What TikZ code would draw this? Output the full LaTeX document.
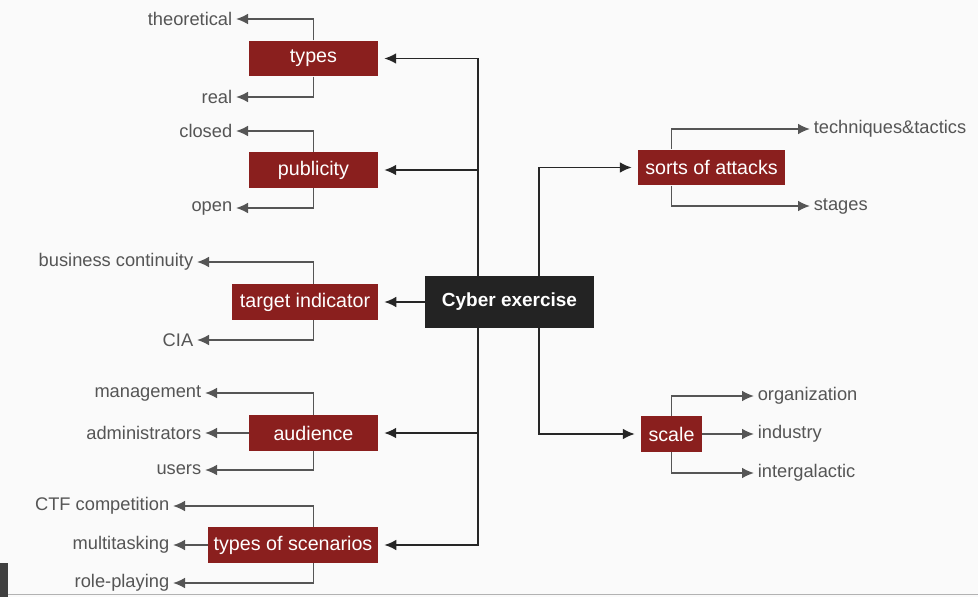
\documentclass[tikz,border=0pt]{standalone}
\usepackage{fontspec}
\setmainfont{Liberation Sans}
\usepackage{tikz}
\usetikzlibrary{positioning,calc}
\usetikzlibrary{arrows.meta}
\definecolor{boxred}{HTML}{8A1F1E}
\definecolor{boxdark}{HTML}{232323}
\definecolor{linegray}{HTML}{555555}
\definecolor{bggray}{HTML}{FAFAFA}
\tikzstyle{arrow} = [line width=1.3pt,-{Latex[length=3mm,width=2.7mm]},linegray]
\tikzstyle{mainarrow} = [line width=1.3pt,-{Latex[length=3mm,width=2.7mm]},black!85,shorten >=1.5mm]
\tikzstyle{topic} = [fill=boxred,text=white,minimum height=0.89cm,inner sep=0pt,font=\fontsize{14}{16}\selectfont]
\tikzstyle{leaf} = [text=linegray,inner sep=2.5pt,font=\fontsize{13}{15}\selectfont]

\begin{document}
\begin{tikzpicture}[x=0.025cm,y=-0.025cm]
	\fill[bggray] (0,0) rectangle (978,597);
	\useasboundingbox (0,0) rectangle (978,597);
	\fill[black!75] (0,563) rectangle (8,597);
	\draw[gray!60] (8,594.5) -- (978,594.5);

	% centre and branches
	\node[fill=boxdark,text=white,minimum width=4.22cm,minimum height=1.3cm,font=\bfseries\fontsize{13.5}{16}\selectfont] (cyber) at (509.5,302) {Cyber exercise};
	\node[topic,minimum width=3.22cm] (types) at (313.5,58.5) {types};
	\node[topic,minimum width=3.22cm] (pub) at (313.5,170) {publicity};
	\node[topic,minimum width=3.65cm] (target) at (305,302) {target indicator};
	\node[topic,minimum width=3.22cm] (aud) at (313.5,433) {audience};
	\node[topic,minimum width=4.25cm] (scen) at (293,545) {types of scenarios};
	\node[topic,minimum width=3.67cm] (attacks) at (711.5,167.5) {sorts of attacks};
	\node[topic,minimum width=1.52cm] (scale) at (671.5,434) {scale};

	\coordinate (lt) at (478,302);
	\coordinate (rt) at (539,302);

	% leaves
	\node[leaf,anchor=east] (theo) at (236,19) {theoretical};
	\node[leaf,anchor=east] (real) at (236,97) {real};
	\node[leaf,anchor=east] (closed) at (236,131) {closed};
	\node[leaf,anchor=east] (open) at (236,208) {open};
	\node[leaf,anchor=east] (bc) at (197,262) {business continuity};
	\node[leaf,anchor=east] (cia) at (197,340) {CIA};
	\node[leaf,anchor=east] (mgmt) at (205,393) {management};
	\node[leaf,anchor=east] (admin) at (205,433) {administrators};
	\node[leaf,anchor=east] (users) at (205,470) {users};
	\node[leaf,anchor=east] (ctf) at (173,506) {CTF competition};
	\node[leaf,anchor=east] (multi) at (173,545) {multitasking};
	\node[leaf,anchor=east] (role) at (173,583) {role-playing};
	\node[leaf,anchor=west] (tech) at (810,129) {techniques\&tactics};
	\node[leaf,anchor=west] (stages) at (810,206) {stages};
	\node[leaf,anchor=west] (org) at (754,396) {organization};
	\node[leaf,anchor=west] (ind) at (754,434) {industry};
	\node[leaf,anchor=west] (inter) at (754,473) {intergalactic};

	\draw[mainarrow] (lt |- cyber.north) |- (types);
	\draw[mainarrow] (lt |- cyber.north) |- (pub);
	\draw[mainarrow] (cyber) -- (target);
	\draw[mainarrow] (lt |- cyber.south) |- (aud);
	\draw[mainarrow] (lt |- cyber.south) |- (scen);
	\draw[mainarrow] (rt |- cyber.north) |- (attacks);
	\draw[mainarrow] (rt |- cyber.south) |- (scale);

	\draw[arrow] (types.north) |- (theo);
	\draw[arrow] (types.south) |- (real);
	\draw[arrow] (pub.north) |- (closed);
	\draw[arrow] (pub.south) |- (open);
	\draw[arrow] (target.north -| types) |- (bc);
	\draw[arrow] (target.south -| types) |- (cia);
	\draw[arrow] (aud.north) |- (mgmt);
	\draw[arrow] (aud) -- (admin);
	\draw[arrow] (aud.south) |- (users);
	\draw[arrow] (scen.north -| aud) |- (ctf);
	\draw[arrow] (scen) -- (multi);
	\draw[arrow] (scen.south -| aud) |- (role);
	\draw[arrow] (attacks.north -| scale) |- (tech);
	\draw[arrow] (attacks.south -| scale) |- (stages);
	\draw[arrow] (scale.north) |- (org);
	\draw[arrow] (scale) -- (ind);
	\draw[arrow] (scale.south) |- (inter);
\end{tikzpicture}
\end{document}
